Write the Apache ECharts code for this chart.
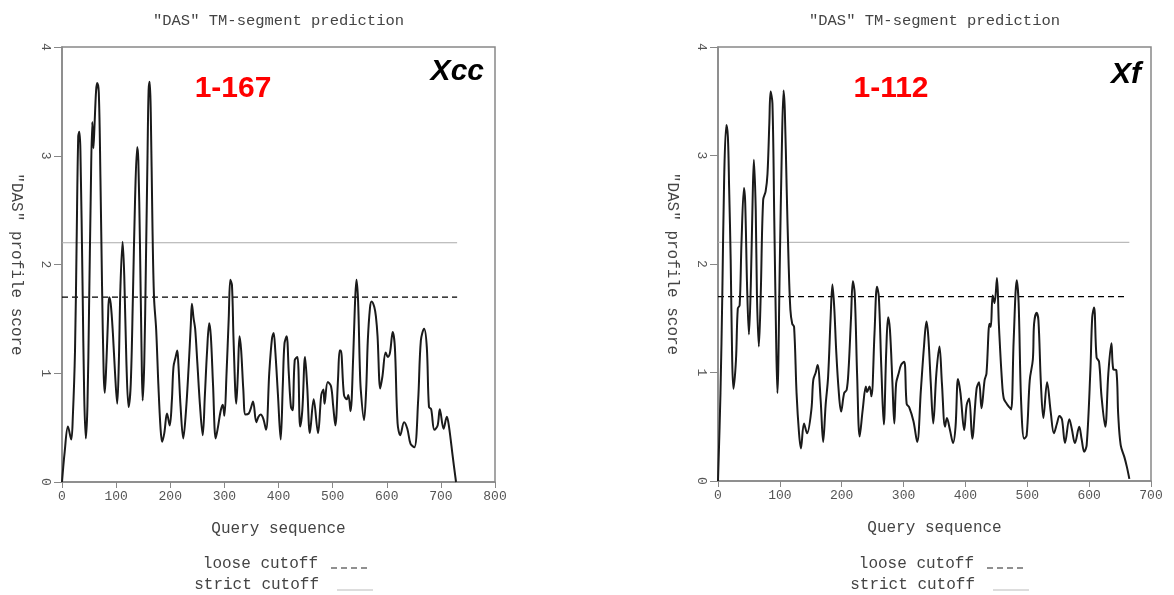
<!DOCTYPE html>
<html>
<head>
<meta charset="utf-8">
<script src="https://cdn.jsdelivr.net/npm/echarts@6/dist/echarts.min.js"></script>
<style>html,body{margin:0;padding:0;background:#fff;}#c{width:1174px;height:595px;}</style>
</head>
<body>
<div id="c"></div>
<script>
// ---- data ----
const xccPos = [0,5,11,17,20,24,27,30,32,34,38,41,44,47,50,53,56,58,60,63,65,68,71,74,77,79,82,85,87,90,94,98,102,105,108,112,115,119,123,127,131,135,139,141,144,147,149,152,155,158,160,162,164,167,170,174,178,182,185,189,194,199,203,206,210,213,215,219,224,229,234,238,240,243,246,250,255,260,264,268,272,275,279,284,288,293,297,300,304,308,311,314,317,322,325,328,331,335,339,345,349,353,359,363,367,372,377,383,388,391,394,399,404,408,411,415,419,423,426,430,435,440,444,449,453,458,465,473,479,483,485,491,497,501,505,510,513,515,521,526,529,533,538,541,544,547,550,552,558,562,565,569,572,577,580,583,588,592,598,602,606,611,615,620,625,632,638,644,651,658,663,669,674,678,682,688,694,698,705,711,715,722,728];
const xccScore = [0,0.28,0.51,0.39,0.6,1.2,2.2,3.18,3.22,3.05,1.8,0.8,0.40,0.7,1.6,2.6,3.31,3.07,3.27,3.6,3.67,3.58,2.8,1.8,1.0,0.82,1.1,1.5,1.70,1.64,1.37,1.0,0.72,1.1,1.8,2.21,1.9,1.1,0.69,0.9,1.7,2.6,3.08,2.96,2.2,1.2,0.75,1.1,2.0,3.0,3.6,3.68,3.4,2.4,1.7,1.4,0.9,0.5,0.37,0.45,0.63,0.52,0.75,1.06,1.15,1.21,1.09,0.7,0.40,0.65,1.06,1.45,1.64,1.51,1.41,1.1,0.7,0.43,0.8,1.2,1.46,1.34,0.9,0.40,0.5,0.65,0.71,0.61,1.0,1.5,1.86,1.81,1.3,0.72,1.0,1.34,1.21,0.85,0.62,0.63,0.68,0.74,0.55,0.6,0.62,0.58,0.48,1.01,1.32,1.37,1.21,0.8,0.39,0.9,1.27,1.34,1.0,0.69,0.66,1.12,1.15,0.51,0.66,1.15,0.88,0.45,0.76,0.45,0.80,0.85,0.72,0.92,0.88,0.7,0.52,0.95,1.21,1.21,0.80,0.76,0.80,0.65,1.15,1.6,1.86,1.67,1.1,0.85,0.57,0.85,1.30,1.6,1.66,1.61,1.52,1.34,0.86,0.97,1.19,1.15,1.19,1.38,1.24,0.54,0.43,0.55,0.49,0.35,0.32,0.75,1.30,1.41,1.24,0.69,0.67,0.48,0.52,0.67,0.49,0.60,0.51,0.23,0.0];

const xfPos = [0,4,7,10,13.5,16,18,20.5,23,25,29,32,35,38,42,44,47,50,53,56,58,61,63,66,69,73,77,80,83,85,88,91,94,96,100,103,106,108,111,114,117,120,123,127,131,134,139,144,151,154,158,161,166,170,174,178,182,185,188,191,195,199,204,208,211,215,218,221,225,229,234,239,241,245,248,253,257,260,264,268,272,275,278,282,285,288,292,296,301,305,309,316,322,328,333,337,340,344,348,353,358,362,367,370,375,380,384,388,392,398,402,406,411,418,422,426,431,434,439,441,444,447,451,454,459,462,467,471,474,478,483,486,490,495,499,504,509,511,515,518,522,526,532,538,543,548,552,556,561,568,572,577,584,588,592,596,602,605,608,612,616,620,626,631,636,639,644,647,651,657,661,665];
const xfScore = [0,0.81,1.73,2.8,3.28,3.17,2.7,2.04,1.1,0.85,1.11,1.59,1.62,2.2,2.70,2.56,1.8,1.35,1.8,2.6,2.96,2.5,1.7,1.24,1.7,2.59,2.67,2.83,3.3,3.59,3.48,2.4,1.3,0.81,2.04,3.0,3.60,3.42,2.7,2.04,1.58,1.45,1.42,0.81,0.44,0.30,0.53,0.44,0.66,0.93,1.0,1.07,0.74,0.36,0.7,0.96,1.5,1.81,1.59,1.21,0.84,0.64,0.81,0.84,1.02,1.5,1.84,1.73,0.96,0.41,0.66,0.87,0.82,0.87,0.78,1.36,1.79,1.70,1.05,0.52,1.2,1.51,1.39,0.9,0.53,0.90,0.99,1.07,1.10,0.71,0.68,0.55,0.36,0.84,1.24,1.47,1.33,0.9,0.53,0.99,1.24,0.90,0.50,0.58,0.47,0.35,0.50,0.94,0.81,0.47,0.70,0.76,0.39,0.85,0.91,0.67,0.93,0.99,1.45,1.42,1.71,1.64,1.87,1.45,0.93,0.76,0.71,0.68,0.66,1.30,1.85,1.64,0.74,0.39,0.42,0.93,1.12,1.45,1.55,1.48,0.90,0.58,0.91,0.63,0.44,0.53,0.60,0.57,0.35,0.57,0.48,0.35,0.50,0.38,0.27,0.33,1.02,1.51,1.60,1.14,1.10,0.78,0.50,0.99,1.27,1.03,1.02,0.61,0.33,0.22,0.13,0.02];

const looseCutoff = 1.7;
const strictCutoff = 2.2;
const xccLength = 730;
const xfLength = 665;
const xccMax = 800, xfMax = 700;
const yTicks = [0, 1, 2, 3, 4];
const plotTitle = '"DAS" TM-segment prediction';
const panelLabels = ['1-167', '1-112'];
const organisms = ['Xcc', 'Xf'];

// ---- chart ----
const mono = 'Liberation Mono, Courier New, monospace';
const pair = (xs, ys) => xs.map((x, i) => [x, ys[i]]);
const grids = [
  {left: 62, top: 47, width: 433, height: 435},
  {left: 718, top: 47, width: 433, height: 434}
];
function xAx(idx, max) {
  return {
    type: 'value', gridIndex: idx, min: 0, max: max, interval: 100,
    name: 'Query sequence', nameLocation: 'middle', nameGap: 39,
    nameTextStyle: {fontFamily: mono, fontSize: 16, color: '#444'},
    axisLine: {lineStyle: {color: '#888', width: 1.5}},
    axisTick: {length: 6, lineStyle: {color: '#888'}},
    axisLabel: {fontFamily: mono, fontSize: 13, color: '#555', margin: 8},
    splitLine: {show: false}
  };
}
function yAx(idx) {
  return {
    type: 'value', gridIndex: idx, min: yTicks[0], max: yTicks[yTicks.length - 1], interval: 1,
    name: '"DAS" profile score', nameLocation: 'middle', nameGap: 38, nameRotate: -90,
    nameTextStyle: {fontFamily: mono, fontSize: 16, color: '#444'},
    axisLine: {lineStyle: {color: '#888', width: 1.5}},
    axisTick: {length: 8, lineStyle: {color: '#888'}},
    axisLabel: {fontFamily: mono, fontSize: 13, color: '#555', rotate: -90, margin: 10},
    splitLine: {show: false}
  };
}
function profile(idx, data) {
  return {type: 'line', xAxisIndex: idx, yAxisIndex: idx, data: data, showSymbol: false, smooth: 0.35,
    lineStyle: {color: '#1a1a1a', width: 2}, z: 5, silent: true};
}
function cutoff(idx, y, len, dashed) {
  return {type: 'line', xAxisIndex: idx, yAxisIndex: idx, data: [[0, y], [len, y]], showSymbol: false,
    lineStyle: dashed ? {color: '#000', width: 1.2, type: [6, 4]} : {color: '#aaa', width: 1}, z: 3, silent: true};
}
const graphics = [];
const centers = [278.5, 934.5];
centers.forEach((cx, i) => {
  const off = cx - 278.5;
  graphics.push({type: 'text', x: cx, y: 21, style: {text: plotTitle, font: '15.5px ' + mono, fill: '#444', align: 'center', verticalAlign: 'middle'}});
  graphics.push({type: 'text', x: 318 + off, y: 564, style: {text: 'loose cutoff', font: '16px ' + mono, fill: '#444', align: 'right', verticalAlign: 'middle'}});
  graphics.push({type: 'text', x: 319 + off, y: 585, style: {text: 'strict cutoff', font: '16px ' + mono, fill: '#444', align: 'right', verticalAlign: 'middle'}});
  graphics.push({type: 'line', shape: {x1: 331 + off, y1: 568, x2: 368 + off, y2: 568}, style: {stroke: '#222', lineWidth: 1.2, lineDash: [6, 4]}});
  graphics.push({type: 'line', shape: {x1: 337 + off, y1: 590, x2: 373 + off, y2: 590}, style: {stroke: '#bbb', lineWidth: 1}});
});
graphics.push({type: 'text', x: 233, y: 89, style: {text: panelLabels[0], font: 'bold 30px Liberation Sans, Arial', fill: '#ff0000', align: 'center', verticalAlign: 'middle'}});
graphics.push({type: 'text', x: 891, y: 89, style: {text: panelLabels[1], font: 'bold 30px Liberation Sans, Arial', fill: '#ff0000', align: 'center', verticalAlign: 'middle'}});
graphics.push({type: 'text', x: 484, y: 72, style: {text: organisms[0], font: 'italic bold 30px Liberation Sans, Arial', fill: '#000', align: 'right', verticalAlign: 'middle'}});
graphics.push({type: 'text', x: 1141, y: 75, style: {text: organisms[1], font: 'italic bold 30px Liberation Sans, Arial', fill: '#000', align: 'right', verticalAlign: 'middle'}});

const chart = echarts.init(document.getElementById('c'), null, {renderer: 'canvas'});
chart.setOption({
  animation: false,
  backgroundColor: '#fff',
  grid: grids.map(g => Object.assign({show: true, borderColor: '#888', borderWidth: 1.5, backgroundColor: 'transparent'}, g)),
  xAxis: [xAx(0, xccMax), xAx(1, xfMax)],
  yAxis: [yAx(0), yAx(1)],
  series: [
    cutoff(0, strictCutoff, xccLength, false),
    cutoff(0, looseCutoff, xccLength, true),
    profile(0, pair(xccPos, xccScore)),
    cutoff(1, strictCutoff, xfLength, false),
    cutoff(1, looseCutoff, xfLength - 6, true),
    profile(1, pair(xfPos, xfScore))
  ],
  graphic: graphics
});
</script>
</body>
</html>
